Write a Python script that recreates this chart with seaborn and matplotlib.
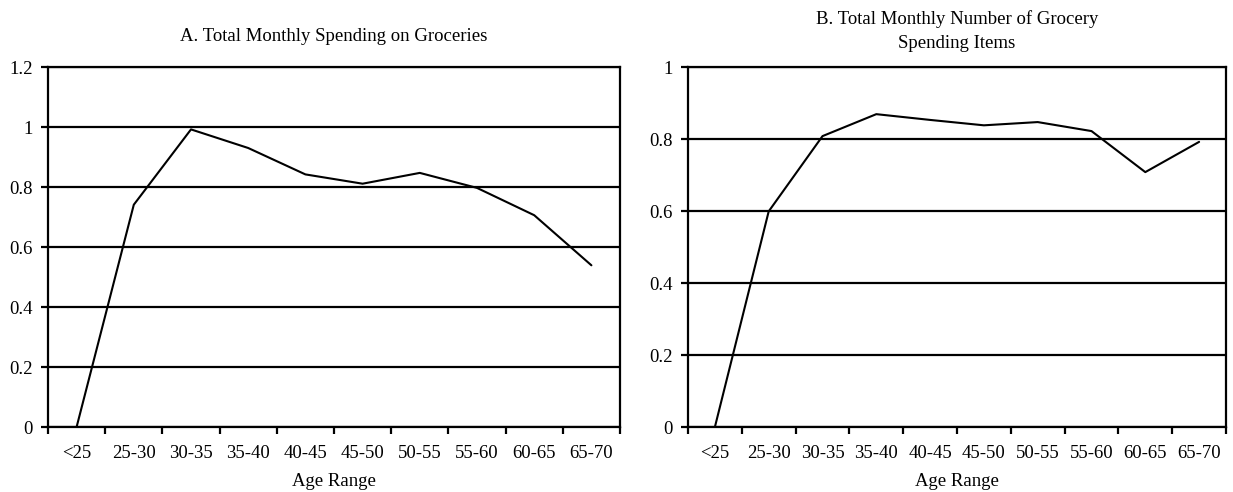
import matplotlib

matplotlib.use("Agg")
import matplotlib.pyplot as plt
import numpy as np
import seaborn as sns

age_ranges = ["<25", "25-30", "30-35", "35-40", "40-45", "45-50", "50-55", "55-60", "60-65", "65-70"]
spending = [0.0, 0.741, 0.992, 0.93, 0.842, 0.811, 0.847, 0.797, 0.706, 0.539]
n_items = [0.0, 0.599, 0.808, 0.869, 0.853, 0.838, 0.847, 0.822, 0.708, 0.792]

titles = [
    "A. Total Monthly Spending on Groceries",
    "B. Total Monthly Number of Grocery\nSpending Items",
]

sns.set_style("white")
plt.rcParams["font.family"] = ["Liberation Serif", "DejaVu Serif"]
plt.rcParams["font.size"] = 13.5
plt.rcParams["text.color"] = "black"
plt.rcParams["axes.labelcolor"] = "black"
plt.rcParams["xtick.color"] = "black"
plt.rcParams["ytick.color"] = "black"

fig = plt.figure(figsize=(12.33, 4.92), dpi=100)
ax_a = fig.add_axes([48 / 1233, 1 - 427 / 492, 572 / 1233, 360 / 492])
ax_b = fig.add_axes([688 / 1233, 1 - 427 / 492, 538 / 1233, 360 / 492])


def _panel(ax, values, title, ymax, yticks, ylabels, title_pad):
    x = np.arange(len(age_ranges))
    for y in yticks:
        ax.axhline(y, color="black", lw=1.6, zorder=1)
    sns.lineplot(x=x, y=values, ax=ax, color="black", lw=1.5, zorder=3)
    ax.set_xlim(-0.5, len(age_ranges) - 0.5)
    ax.set_ylim(0, ymax)
    ax.set_xticks(x)
    ax.set_xticklabels(age_ranges)
    ax.set_xticks(np.arange(len(age_ranges) + 1) - 0.5, minor=True)
    ax.tick_params(axis="x", which="both", bottom=True)
    ax.tick_params(axis="x", which="major", length=0, pad=13, labelsize=13.5)
    ax.tick_params(axis="x", which="minor", length=5, width=1.6, color="black", direction="out")
    ax.set_yticks(yticks)
    ax.set_yticklabels(ylabels)
    ax.tick_params(axis="y", left=True, length=5, width=1.6, color="black", direction="out", pad=6,
                   labelsize=13.5)
    ax.set_xlabel("Age Range", fontsize=13.5, labelpad=8)
    ax.set_ylabel("")
    ax.set_title(title, fontsize=13.5, pad=title_pad, linespacing=1.5)
    for spine in ax.spines.values():
        spine.set_visible(True)
        spine.set_color("black")
        spine.set_linewidth(1.6)


_panel(ax_a, spending, titles[0], 1.2,
       [0, 0.2, 0.4, 0.6, 0.8, 1.0, 1.2], ["0", "0.2", "0.4", "0.6", "0.8", "1", "1.2"], 19)
_panel(ax_b, n_items, titles[1], 1.0,
       [0, 0.2, 0.4, 0.6, 0.8, 1.0], ["0", "0.2", "0.4", "0.6", "0.8", "1"], 14)

fig.savefig("out.png", dpi=100)
